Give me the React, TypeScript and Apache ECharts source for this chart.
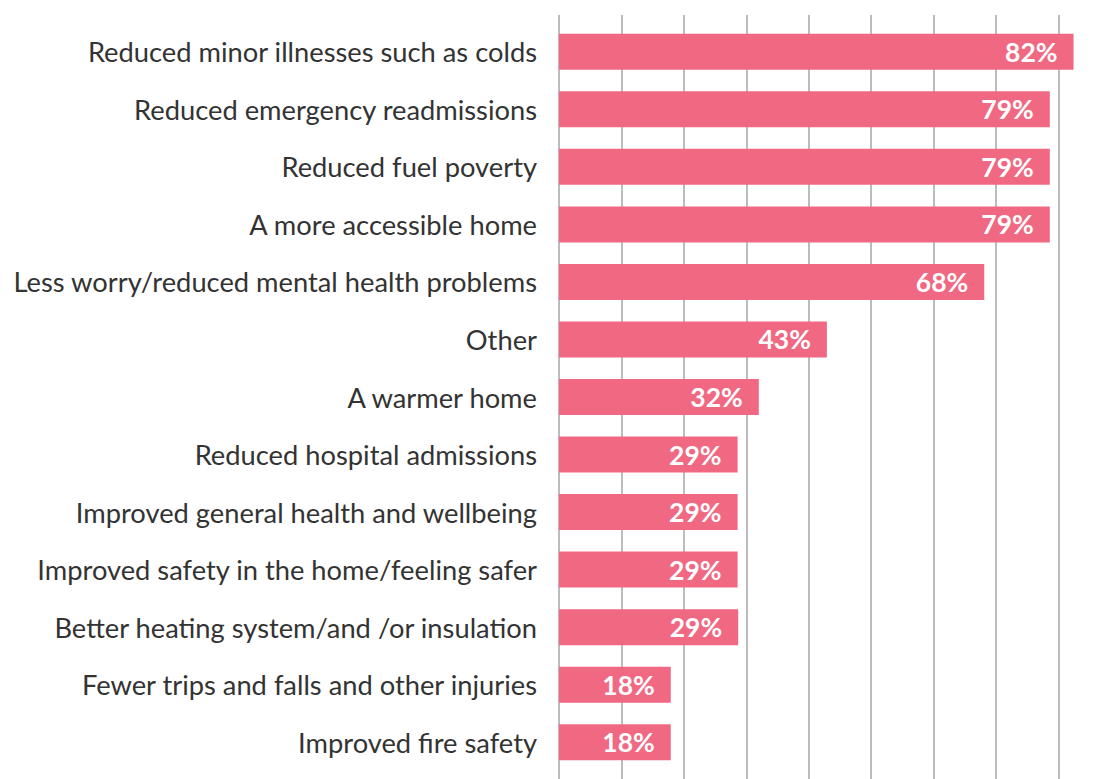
import React, { useEffect, useRef } from "react";
import * as echarts from "echarts";

const categories: string[] = [
  "Reduced minor illnesses such as colds",
  "Reduced emergency readmissions",
  "Reduced fuel poverty",
  "A more accessible home",
  "Less worry/reduced mental health problems",
  "Other",
  "A warmer home",
  "Reduced hospital admissions",
  "Improved general health and wellbeing",
  "Improved safety in the home/feeling safer",
  "Better heating system/and /or insulation",
  "Fewer trips and falls and other injuries",
  "Improved fire safety",
];

const values: number[] = [82.4, 78.6, 78.6, 78.6, 68.1, 42.9, 32.0, 28.6, 28.6, 28.6, 28.7, 17.9, 17.9];

const AXIS_MIN = 0;
const AXIS_MAX = 90;
const AXIS_INTERVAL = 10;

export default function App() {
  const ref = useRef<HTMLDivElement>(null);

  useEffect(() => {
    document.body.style.margin = "0";
    document.body.style.overflow = "hidden";
    document.documentElement.style.overflow = "hidden";
    if (!ref.current) return;
    const chart = echarts.init(ref.current, null, { renderer: "svg" });
    const left = 559;
    const right = 9;
    chart.setOption({
      animation: false,
      backgroundColor: "#ffffff",
      grid: [
        { left, right, top: 15, bottom: 0, containLabel: false },
        { left, right, top: 23, bottom: 8, containLabel: false },
      ],
      xAxis: [
        {
          gridIndex: 0,
          type: "value",
          min: AXIS_MIN,
          max: AXIS_MAX,
          interval: AXIS_INTERVAL,
          axisLabel: { show: false },
          axisLine: { show: false },
          axisTick: { show: false },
          splitLine: { show: true, lineStyle: { color: "#a6a6a6", width: 1.5 } },
        },
        {
          gridIndex: 1,
          type: "value",
          min: AXIS_MIN,
          max: AXIS_MAX,
          interval: AXIS_INTERVAL,
          show: false,
          splitLine: { show: false },
        },
      ],
      yAxis: [
        {
          gridIndex: 0,
          type: "category",
          data: categories,
          show: false,
        },
        {
          gridIndex: 1,
          type: "category",
          data: categories,
          inverse: true,
          axisLine: { show: false },
          axisTick: { show: false },
          splitLine: { show: false },
          axisLabel: {
            margin: 22,
            fontSize: 27.3,
            color: "#333333",
            fontFamily: "Lato",
          },
        },
      ],
      series: [
        {
          type: "bar",
          xAxisIndex: 1,
          yAxisIndex: 1,
          data: values,
          barWidth: 36,
          itemStyle: { color: "#F06882" },
          label: {
            show: true,
            position: "insideRight",
            distance: 16,
            formatter: (p: any) => Math.round(p.value) + "%",
            color: "#ffffff",
            fontWeight: "bold",
            fontSize: 26.5,
            fontFamily: "Lato",
          },
        },
      ],
    });
    return () => chart.dispose();
  }, []);

  return (
    <div
      ref={ref}
      style={{ position: "absolute", left: 0, top: 0, width: 1130, height: 779 }}
    />
  );
}
